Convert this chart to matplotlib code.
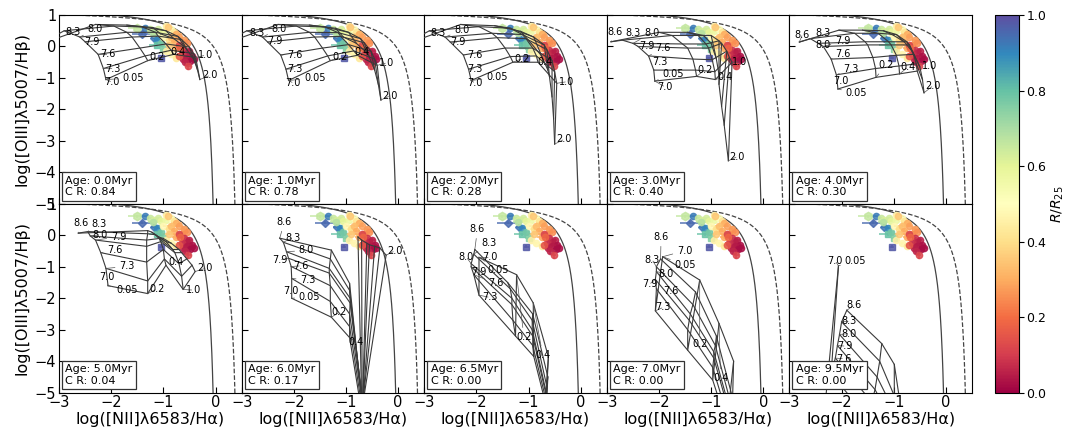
import matplotlib.pyplot as plt
import matplotlib as mpl
import numpy as np

# panel info
ages = [0.0, 1.0, 2.0, 3.0, 4.0, 5.0, 6.0, 6.5, 7.0, 9.5]
cr_values = [0.84, 0.78, 0.28, 0.40, 0.30, 0.04, 0.17, 0.00, 0.00, 0.00]
logq_names = ["7.0", "7.3", "7.6", "7.9", "8.0", "8.3", "8.6"]
z_names = ["0.05", "0.2", "0.4", "1.0", "2.0"]

# observed HII regions
obs_x = [-1.50, -1.35, -1.40, -1.18, -1.12, -1.04, -1.12, -1.00, -1.05,
         -1.25, -1.18, -1.10, -1.05, -0.95, -1.20,
         -0.95, -0.85, -0.80, -1.00, -0.90, -0.95, -0.85, -0.75,
         -0.92, -0.75, -0.70, -0.85, -0.80, -0.60, -0.65, -0.90, -0.75, -0.55,
         -0.70, -0.60, -0.55, -0.50, -0.45, -0.65, -0.55, -0.48, -0.62, -0.70, -0.58, -0.52, -0.42, -0.68]
obs_y = [0.60, 0.60, 0.40, 0.28, 0.22, -0.36, 0.04, -0.08, 0.12,
         0.55, 0.50, 0.55, 0.45, 0.48, 0.42,
         0.65, 0.55, 0.45, 0.30, 0.20, -0.15, -0.25, -0.35,
         0.62, 0.40, 0.30, 0.30, 0.15, 0.20, 0.05, 0.05, -0.05, 0.10,
         0.05, -0.10, -0.20, -0.15, -0.30, -0.25, -0.35, -0.45, -0.40, -0.30, -0.50, -0.62, -0.40, -0.05]
obs_xerr = [0.18, 0.05, 0.20, 0.06, 0.05, 0.05, 0.16, 0.06, 0.05,
            0.08, 0.06, 0.05, 0.05, 0.05, 0.10,
            0.05, 0.06, 0.05, 0.20, 0.08, 0.06, 0.05, 0.05,
            0.05, 0.10, 0.05, 0.15, 0.06, 0.05, 0.05, 0.12, 0.08, 0.05,
            0.06, 0.05, 0.06, 0.05, 0.05, 0.08, 0.05, 0.05, 0.06, 0.10, 0.05, 0.05, 0.05, 0.06]
obs_yerr = [0.04, 0.03, 0.04, 0.04, 0.03, 0.04, 0.05, 0.05, 0.04,
            0.04, 0.04, 0.03, 0.04, 0.04, 0.04,
            0.05, 0.05, 0.04, 0.05, 0.05, 0.06, 0.05, 0.06,
            0.04, 0.05, 0.05, 0.05, 0.05, 0.05, 0.06, 0.05, 0.06, 0.05,
            0.06, 0.06, 0.07, 0.06, 0.07, 0.06, 0.08, 0.08, 0.07, 0.06, 0.08, 0.12, 0.07, 0.06]
obs_r = [0.66, 0.92, 0.95, 0.93, 0.90, 0.98, 0.80, 0.75, 0.78,
         0.65, 0.62, 0.63, 0.60, 0.57, 0.68,
         0.45, 0.50, 0.42, 0.48, 0.40, 0.45, 0.47, 0.43,
         0.35, 0.30, 0.28, 0.33, 0.30, 0.27, 0.25, 0.35, 0.30, 0.25,
         0.12, 0.08, 0.06, 0.05, 0.03, 0.08, 0.04, 0.02, 0.05, 0.15, 0.06, 0.12, 0.02, 0.18]
obs_mark = ['h', 'o', 'D', 'D', 'o', 's', 's', 's', 'o'] + ['o'] * 38

# model grids: one list per metallicity (0.05, 0.2, 0.4, 1.0, 2.0),
# each with log q = 7.0, 7.3, 7.6, 7.9, 8.0, 8.3, 8.6
grid_x_00 = [[-2.10, -2.15, -2.25, -2.50, -2.60, -2.90, -3.40],
             [-1.30, -1.35, -1.45, -1.60, -1.70, -1.95, -2.30],
             [-0.80, -0.85, -0.95, -1.10, -1.15, -1.40, -1.70],
             [-0.38, -0.42, -0.50, -0.65, -0.72, -0.95, -1.20],
             [-0.30, -0.35, -0.42, -0.55, -0.60, -0.80, -1.05]]
grid_y_00 = [[-1.05, -0.70, -0.25, 0.15, 0.30, 0.50, 0.05],
             [-0.45, -0.30, -0.05, 0.30, 0.45, 0.65, 0.70],
             [-0.25, -0.12, 0.08, 0.33, 0.45, 0.62, 0.68],
             [-0.35, -0.22, -0.02, 0.22, 0.32, 0.50, 0.60],
             [-1.05, -0.72, -0.40, -0.10, 0.00, 0.25, 0.40]]

grid_x_10 = [[-2.10, -2.15, -2.25, -2.50, -2.60, -2.90, -3.40],
             [-1.30, -1.35, -1.45, -1.60, -1.70, -1.95, -2.30],
             [-0.78, -0.85, -0.95, -1.10, -1.15, -1.40, -1.70],
             [-0.40, -0.45, -0.52, -0.65, -0.72, -0.95, -1.20],
             [-0.33, -0.38, -0.45, -0.55, -0.60, -0.80, -1.05]]
grid_y_10 = [[-1.08, -0.72, -0.27, 0.14, 0.30, 0.50, 0.05],
             [-0.45, -0.30, -0.05, 0.30, 0.45, 0.65, 0.70],
             [-0.28, -0.14, 0.06, 0.32, 0.44, 0.62, 0.68],
             [-0.60, -0.40, -0.15, 0.12, 0.25, 0.45, 0.58],
             [-1.70, -1.20, -0.75, -0.35, -0.20, 0.10, 0.30]]

grid_x_20 = [[-2.10, -2.15, -2.25, -2.50, -2.60, -2.90, -3.40],
             [-1.30, -1.35, -1.45, -1.60, -1.70, -1.95, -2.30],
             [-0.82, -0.85, -0.92, -1.05, -1.12, -1.35, -1.65],
             [-0.46, -0.50, -0.55, -0.65, -0.70, -0.90, -1.15],
             [-0.50, -0.52, -0.55, -0.60, -0.63, -0.75, -0.95]]
grid_y_20 = [[-1.08, -0.72, -0.27, 0.14, 0.30, 0.50, 0.05],
             [-0.50, -0.32, -0.05, 0.28, 0.42, 0.63, 0.70],
             [-0.50, -0.30, -0.05, 0.25, 0.38, 0.58, 0.66],
             [-1.17, -0.80, -0.45, -0.10, 0.05, 0.30, 0.48],
             [-3.10, -2.30, -1.60, -0.95, -0.75, -0.30, 0.10]]

grid_x_30 = [[-2.08, -2.10, -2.20, -2.40, -2.50, -2.70, -2.92],
             [-1.28, -1.30, -1.35, -1.45, -1.55, -1.75, -2.00],
             [-0.92, -0.93, -0.98, -1.05, -1.10, -1.25, -1.45],
             [-0.60, -0.65, -0.70, -0.80, -0.85, -1.00, -1.15],
             [-0.67, -0.75, -0.80, -0.85, -0.85, -0.90, -1.00]]
grid_y_30 = [[-1.10, -0.75, -0.30, 0.00, 0.10, 0.20, 0.15],
             [-0.95, -0.75, -0.40, -0.05, 0.08, 0.35, 0.45],
             [-1.05, -0.80, -0.42, -0.05, 0.08, 0.35, 0.45],
             [-0.50, -0.35, -0.15, 0.10, 0.18, 0.35, 0.35],
             [-3.63, -2.50, -1.90, -1.20, -0.90, -0.40, 0.10]]

grid_x_40 = [[-2.07, -2.10, -2.20, -2.35, -2.45, -2.60, -2.81],
             [-1.34, -1.35, -1.40, -1.50, -1.55, -1.75, -2.05],
             [-0.89, -0.90, -0.95, -1.05, -1.10, -1.30, -1.60],
             [-0.55, -0.57, -0.62, -0.70, -0.75, -0.95, -1.20],
             [-0.42, -0.45, -0.50, -0.60, -0.65, -0.80, -1.00]]
grid_y_40 = [[-1.35, -0.90, -0.40, 0.00, 0.10, 0.25, 0.14],
             [-0.98, -0.70, -0.35, 0.05, 0.15, 0.42, 0.52],
             [-0.87, -0.62, -0.28, 0.05, 0.15, 0.42, 0.52],
             [-0.78, -0.55, -0.25, 0.05, 0.15, 0.38, 0.50],
             [-1.47, -1.05, -0.65, -0.30, -0.15, 0.15, 0.35]]

grid_x_50 = [[-2.06, -2.10, -2.20, -2.30, -2.40, -2.45, -2.63],
             [-1.30, -1.30, -1.32, -1.32, -1.32, -1.30, -1.30],
             [-0.95, -0.98, -1.00, -1.05, -1.08, -1.15, -1.22],
             [-0.62, -0.65, -0.70, -0.78, -0.82, -0.95, -1.10],
             [-0.39, -0.45, -0.55, -0.65, -0.70, -0.85, -1.00]]
grid_y_50 = [[-1.60, -1.05, -0.55, -0.15, -0.02, 0.12, 0.07],
             [-1.85, -1.45, -0.85, -0.35, -0.15, 0.05, 0.15],
             [-0.95, -0.75, -0.45, -0.20, -0.10, 0.02, 0.10],
             [-1.72, -1.30, -0.90, -0.55, -0.45, -0.20, -0.05],
             [-1.15, -0.95, -0.75, -0.55, -0.45, -0.25, -0.10]]

grid_x_60 = [[-2.04, -2.04, -2.05, -2.10, -2.14, -2.20, -2.27],
             [-1.28, -1.30, -1.30, -1.32, -1.32, -1.30, -1.28],
             [-0.93, -0.93, -0.93, -0.92, -0.92, -0.93, -0.93],
             [-0.70, -0.69, -0.68, -0.68, -0.68, -0.69, -0.70],
             [-0.23, -0.35, -0.45, -0.55, -0.60, -0.70, -0.77]]
grid_y_60 = [[-2.00, -1.37, -0.99, -0.73, -0.52, -0.22, -0.09],
             [-2.60, -2.10, -1.60, -1.20, -1.05, -0.75, -0.47],
             [-3.25, -2.90, -2.50, -2.15, -2.00, -1.75, -1.53],
             [-5.60, -5.50, -5.40, -5.35, -5.30, -5.25, -5.20],
             [-0.63, -0.40, -0.35, -0.30, -0.25, -0.15, -0.05]]

grid_x_65 = [[-1.95, -1.95, -2.05, -2.10, -2.10, -2.05, -2.03],
             [-1.23, -1.25, -1.30, -1.32, -1.32, -1.35, -1.40],
             [-0.91, -0.90, -0.92, -0.92, -0.93, -0.93, -0.92],
             [-0.62, -0.68, -0.67, -0.66, -0.66, -0.65, -0.63],
             [-0.67, -0.70, -0.70, -0.69, -0.69, -0.68, -0.67]]
grid_y_65 = [[-0.70, -1.90, -1.25, -1.00, -0.90, -0.60, -0.45],
             [-1.25, -3.20, -2.70, -2.20, -2.00, -1.70, -1.50],
             [-2.15, -3.85, -3.50, -3.20, -3.00, -2.70, -2.50],
             [-3.86, -5.30, -5.20, -5.10, -5.00, -4.80, -4.50],
             [-5.50, -6.50, -6.40, -6.30, -6.20, -6.00, -5.80]]

grid_x_70 = [[-1.93, -2.07, -2.05, -2.07, -2.05, -2.05, -1.97],
             [-1.22, -1.45, -1.45, -1.42, -1.40, -1.35, -1.30],
             [-0.85, -0.97, -0.97, -0.95, -0.95, -0.92, -0.90],
             [-0.57, -0.70, -0.68, -0.66, -0.65, -0.63, -0.60],
             [-0.60, -0.70, -0.70, -0.70, -0.70, -0.68, -0.65]]
grid_y_70 = [[-0.68, -2.40, -1.70, -1.40, -1.15, -1.00, -0.75],
             [-1.42, -3.65, -3.00, -2.70, -2.50, -2.20, -1.80],
             [-2.80, -4.60, -4.20, -3.90, -3.70, -3.50, -3.20],
             [-4.00, -6.00, -5.80, -5.60, -5.50, -5.30, -5.10],
             [-5.80, -7.00, -6.80, -6.60, -6.50, -6.30, -6.00]]

grid_x_95 = [[-2.06, -2.20, -2.12, -2.08, -2.04, -2.00, -1.90],
             [-2.30, -1.50, -1.42, -1.36, -1.32, -1.27, -1.23],
             [-1.60, -1.00, -1.00, -1.00, -0.99, -0.99, -0.99],
             [-1.20, -0.80, -0.80, -0.80, -0.80, -0.80, -0.80],
             [-1.00, -0.70, -0.70, -0.70, -0.70, -0.70, -0.70]]
grid_y_95 = [[-0.97, -4.40, -3.90, -3.50, -3.15, -2.75, -2.38],
             [-5.10, -5.80, -5.30, -4.90, -4.50, -4.00, -3.44],
             [-6.50, -6.80, -6.40, -6.00, -5.60, -5.10, -4.10],
             [-8.00, -8.20, -7.90, -7.60, -7.30, -6.90, -6.20],
             [-9.00, -9.20, -8.90, -8.60, -8.30, -7.90, -7.20]]

grid_x_all = [grid_x_00, grid_x_10, grid_x_20, grid_x_30, grid_x_40,
              grid_x_50, grid_x_60, grid_x_65, grid_x_70, grid_x_95]
grid_y_all = [grid_y_00, grid_y_10, grid_y_20, grid_y_30, grid_y_40,
              grid_y_50, grid_y_60, grid_y_65, grid_y_70, grid_y_95]

# where the (repelled) grid labels sit, log q labels then Z labels
qlab_pos = [
    [(-1.99, -1.13), (-1.96, -0.70), (-2.06, -0.25), (-2.37, 0.15), (-2.31, 0.55), (-2.73, 0.47), None],
    [(-2.01, -1.16), (-1.98, -0.71), (-1.98, -0.27), (-2.36, 0.16), (-2.28, 0.56), (-2.71, 0.43), None],
    [(-2.03, -1.16), (-2.03, -0.71), (-2.03, -0.27), (-2.35, 0.14), (-2.28, 0.51), (-2.73, 0.43), None],
    [(-1.89, -1.28), (-1.98, -0.49), (-1.92, -0.06), (-2.24, 0.00), (-2.14, 0.42), (-2.49, 0.44), (-2.84, 0.47)],
    [(-2.01, -1.09), (-1.82, -0.70), (-1.98, -0.24), (-1.98, 0.17), (-2.36, 0.06), (-2.36, 0.44), (-2.75, 0.38)],
    [(-2.09, -1.31), (-1.70, -0.99), (-1.93, -0.48), (-1.86, -0.05), (-2.22, 0.02), (-2.23, 0.37), (-2.57, 0.39)],
    [(-2.05, -1.77), (-1.73, -1.42), (-1.87, -0.97), (-2.26, -0.78), (-1.76, -0.48), (-2.02, -0.07), (-2.18, 0.42)],
    [(-1.75, -0.70), (-1.75, -1.97), (-1.62, -1.53), (-1.96, -1.16), (-2.19, -0.70), (-1.75, -0.24), (-1.98, 0.19)],
    [(-1.51, -0.49), (-1.92, -2.29), (-1.78, -1.77), (-2.18, -1.55), (-1.86, -1.23), (-2.13, -0.78), (-1.96, -0.06)],
    [(-2.12, -0.82), (-2.02, -4.30), (-1.96, -3.92), (-1.93, -3.52), (-1.86, -3.12), (-1.85, -2.73), (-1.76, -2.22)],
]
zlab_pos = [
    [(-1.58, -1.00), (-1.13, -0.33), (-0.72, -0.17), (-0.20, -0.28), (-0.11, -0.92)],
    [(-1.60, -1.00), (-1.12, -0.34), (-0.70, -0.18), (-0.22, -0.52), (-0.16, -1.57)],
    [(-1.61, -0.98), (-1.13, -0.39), (-0.69, -0.50), (-0.27, -1.12), (-0.32, -2.95)],
    [(-1.73, -0.86), (-1.12, -0.74), (-0.74, -0.96), (-0.45, -0.49), (-0.50, -3.50)],
    [(-1.72, -1.49), (-1.15, -0.59), (-0.73, -0.66), (-0.32, -0.63), (-0.25, -1.25)],
    [(-1.70, -1.74), (-1.13, -1.71), (-0.75, -0.84), (-0.43, -1.74), (-0.20, -1.05)],
    [(-1.70, -1.95), (-1.13, -2.45), (-0.81, -3.38), None, (-0.07, -0.50)],
    [(-1.58, -1.10), (-1.09, -3.22), (-0.73, -3.80), None, None],
    [(-1.50, -0.94), (-1.22, -3.46), (-0.82, -4.53), None, None],
    [(-1.74, -0.82), None, None, None, None],
]

fig, axes = plt.subplots(2, 5, figsize=(10.67, 4.29), dpi=100)
plt.subplots_adjust(left=0.0553, right=0.911, top=0.965, bottom=0.0846, wspace=0, hspace=0)

cmap = plt.get_cmap('Spectral')
norm = mpl.colors.Normalize(vmin=0, vmax=1)

# Kauffmann (solid) and Kewley (dashed) lines
xk = np.linspace(-3, 0.045, 500)
yk = 0.61 / (xk - 0.05) + 1.3
xw = np.linspace(-3, 0.465, 500)
yw = 0.61 / (xw - 0.47) + 1.19

lab_kw = dict(fontsize=7, ha='center', va='center', zorder=4,
              arrowprops=dict(arrowstyle='-', color='#555555', lw=0.5, shrinkA=1, shrinkB=0))

for i, ax in enumerate(axes.flat):
    ax.plot(xk, yk, color='#444444', lw=0.9, zorder=1)
    ax.plot(xw, yw, color='#444444', lw=0.9, ls='--', zorder=1)

    for j in range(len(obs_x)):
        c = cmap(norm(obs_r[j]))
        ax.errorbar(obs_x[j], obs_y[j], xerr=obs_xerr[j], yerr=obs_yerr[j],
                    fmt=obs_mark[j], ms=4.5 if obs_mark[j] != 'h' else 6,
                    color=c, ecolor=c, elinewidth=1.2, alpha=0.85, zorder=2)

    gx = np.array(grid_x_all[i])
    gy = np.array(grid_y_all[i])
    for k in range(gx.shape[0]):
        ax.plot(gx[k], gy[k], color='#3a3a3a', lw=0.8, zorder=3)
    for k in range(gx.shape[1]):
        ax.plot(gx[:, k], gy[:, k], color='#3a3a3a', lw=0.8, zorder=3)

    for k in range(gx.shape[1]):
        if qlab_pos[i][k] is not None:
            ax.annotate(logq_names[k], xy=(gx[0, k], gy[0, k]), xytext=qlab_pos[i][k], **lab_kw)
    for k in range(gx.shape[0]):
        if zlab_pos[i][k] is not None:
            ax.annotate(z_names[k], xy=(gx[k, 0], gy[k, 0]), xytext=zlab_pos[i][k], **lab_kw)

    ax.text(0.035, 0.035, "Age: %.1fMyr\nC R: %.2f" % (ages[i], cr_values[i]),
            transform=ax.transAxes, fontsize=8, ha='left', va='bottom', zorder=10,
            bbox=dict(boxstyle='square,pad=0.3', fc='white', ec='#333333', lw=0.9))

    ax.set_xlim(-3, 0.5)
    ax.set_ylim(-5, 1)
    ax.set_xticks([-3, -2, -1, 0])
    ax.set_yticks([1, 0, -1, -2, -3, -4, -5])
    ax.tick_params(direction='in', labelsize=10.5, length=4, pad=2)
    if i < 5:
        ax.tick_params(labelbottom=False)
    else:
        ax.set_xlabel('log([NII]λ6583/Hα)', fontsize=11.5, labelpad=1)
    if i % 5 != 0:
        ax.tick_params(labelleft=False)
    else:
        ax.set_ylabel('log([OIII]λ5007/Hβ)', fontsize=11.5)

cax = fig.add_axes([0.9325, 0.0846, 0.0225, 0.8804])
sm = mpl.cm.ScalarMappable(norm=norm, cmap=cmap)
cb = fig.colorbar(sm, cax=cax)
cb.set_ticks([0.0, 0.2, 0.4, 0.6, 0.8, 1.0])
cb.ax.tick_params(labelsize=9, pad=2)
cb.set_label('$R/R_{25}$', fontsize=10, labelpad=2)

plt.savefig('out.png', dpi=100)
